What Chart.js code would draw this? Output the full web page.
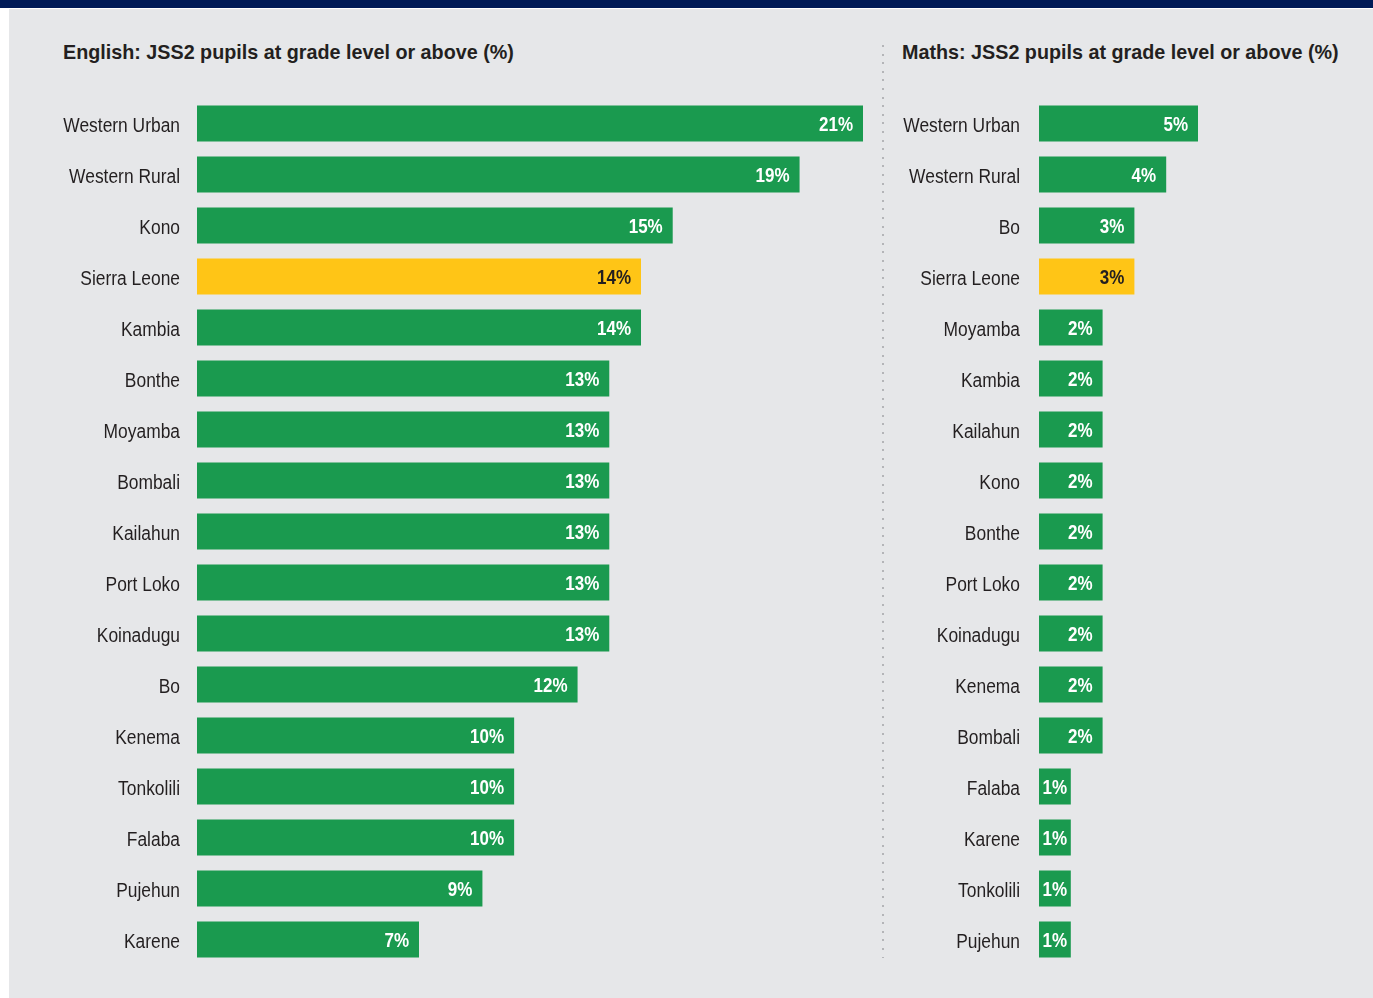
<!DOCTYPE html>
<html>
<head>
<meta charset="utf-8">
<script src="https://cdn.jsdelivr.net/npm/chart.js@4/dist/chart.umd.min.js"></script>
<style>
  html, body { margin: 0; padding: 0; background: #fff; }
  body { width: 1373px; height: 998px; position: relative; overflow: hidden;
         font-family: "Liberation Sans", Arial, sans-serif; }
  #topbar { position: absolute; left: 0; top: 0; width: 1373px; height: 8px; background: #001a57; }
  #panel { position: absolute; left: 9px; top: 9px; width: 1364px; height: 989px; background: #e6e7e9; }
  .title { position: absolute; top: 41px; font-weight: bold; font-size: 21px; line-height: 21px;
           color: #231f20; white-space: nowrap; transform: scaleX(0.94); transform-origin: 0 0; }
  #sep { position: absolute; left: 882px; top: 45px; width: 2px; height: 913px;
         background: repeating-linear-gradient(to bottom, #b4b5b8 0 2px, transparent 2px 8.6px); }
  canvas { position: absolute; }
</style>
</head>
<body>
<div id="topbar"></div>
<div id="panel"></div>
<div class="title" style="left:63px">English: JSS2 pupils at grade level or above (%)</div>
<div class="title" style="left:902px">Maths: JSS2 pupils at grade level or above (%)</div>
<div id="sep"></div>
<canvas id="englishChart" width="843" height="867" style="left:20px; top:98px"></canvas>
<canvas id="mathsChart" width="467" height="867" style="left:890px; top:98px"></canvas>

<script>
// Dados por distrito
const englishLabels = ['Western Urban', 'Western Rural', 'Kono', 'Sierra Leone', 'Kambia', 'Bonthe', 'Moyamba',
    'Bombali', 'Kailahun', 'Port Loko', 'Koinadugu', 'Bo', 'Kenema', 'Tonkolili', 'Falaba', 'Pujehun', 'Karene'];
const englishValues = [21, 19, 15, 14, 14, 13, 13, 13, 13, 13, 13, 12, 10, 10, 10, 9, 7];

const mathsLabels = ['Western Urban', 'Western Rural', 'Bo', 'Sierra Leone', 'Moyamba', 'Kambia', 'Kailahun',
    'Kono', 'Bonthe', 'Port Loko', 'Koinadugu', 'Kenema', 'Bombali', 'Falaba', 'Karene', 'Tonkolili', 'Pujehun'];
const mathsValues = [5, 4, 3, 3, 2, 2, 2, 2, 2, 2, 2, 2, 2, 1, 1, 1, 1];

const national = 'Sierra Leone';
const GREEN = '#1a9a4f';
const YELLOW = '#ffc516';
const DARK = '#231f20';
const FONT = '"Liberation Sans", Arial, sans-serif';

// Nomes dos distritos no eixo y, em fonte estreita
const axisLabels = {
    id: 'axisLabels',
    afterDraw(chart, args, opts) {
        const scale = chart.scales.y;
        const ctx = chart.ctx;
        ctx.save();
        ctx.font = '20px ' + FONT;
        ctx.fillStyle = DARK;
        ctx.textAlign = 'right';
        ctx.textBaseline = 'middle';
        scale.ticks.forEach((tick, i) => {
            ctx.save();
            ctx.translate(scale.right - opts.padding, scale.getPixelForTick(i) + 2.5);
            ctx.scale(0.87, 1);
            ctx.fillText(scale.getLabelForValue(tick.value), 0, 0);
            ctx.restore();
        });
        ctx.restore();
    }
};

// Rótulo de valor dentro da barra
const valueLabels = {
    id: 'valueLabels',
    afterDatasetsDraw(chart) {
        const ctx = chart.ctx;
        const labels = chart.data.labels;
        const meta = chart.getDatasetMeta(0);
        const sx = 0.81;
        ctx.save();
        ctx.font = 'bold 21px ' + FONT;
        ctx.textBaseline = 'middle';
        meta.data.forEach((bar, i) => {
            const text = chart.data.datasets[0].data[i] + '%';
            const w = ctx.measureText(text).width * sx;
            const barWidth = bar.x - bar.base;
            ctx.fillStyle = labels[i] === national ? DARK : '#ffffff';
            ctx.save();
            if (w + 20 > barWidth) {
                ctx.textAlign = 'center';
                ctx.translate((bar.x + bar.base) / 2, bar.y + 2);
            } else {
                ctx.textAlign = 'right';
                ctx.translate(bar.x - 10, bar.y + 2);
            }
            ctx.scale(sx, 1);
            ctx.fillText(text, 0, 0);
            ctx.restore();
        });
        ctx.restore();
    }
};

function makeChart(id, labels, values, xMax, axisWidth, pad) {
    return new Chart(document.getElementById(id), {
        type: 'bar',
        data: {
            labels: labels,
            datasets: [{
                data: values,
                backgroundColor: labels.map(l => l === national ? YELLOW : GREEN),
                borderWidth: 0,
                categoryPercentage: 1,
                barPercentage: 0.707
            }]
        },
        options: {
            indexAxis: 'y',
            responsive: false,
            animation: false,
            devicePixelRatio: 1,
            layout: { padding: 0 },
            plugins: {
                legend: { display: false },
                tooltip: { enabled: false },
                axisLabels: { padding: pad }
            },
            scales: {
                x: { display: false, min: 0, max: xMax },
                y: {
                    grid: { display: false, drawTicks: false },
                    border: { display: false },
                    ticks: { display: false },
                    afterFit: (scale) => { scale.width = axisWidth; }
                }
            }
        },
        plugins: [axisLabels, valueLabels]
    });
}

makeChart('englishChart', englishLabels, englishValues, 21, 177, 17);
makeChart('mathsChart', mathsLabels, mathsValues, 10, 149, 19);
</script>
</body>
</html>
